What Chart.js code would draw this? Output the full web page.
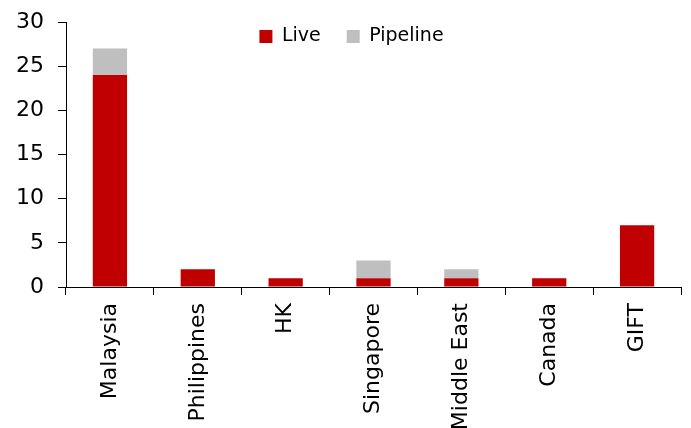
<!DOCTYPE html>
<html>
<head>
<meta charset="utf-8">
<script src="https://cdn.jsdelivr.net/npm/chart.js@4"></script>
<style>
  html, body { margin: 0; padding: 0; background: #fff; }
  #wrap { width: 691px; height: 428px; }
</style>
</head>
<body>
<div id="wrap"><canvas id="bar-chart"></canvas></div>
<script>
var categories = ['Malaysia', 'Philippines', 'HK', 'Singapore', 'Middle East', 'Canada', 'GIFT'];
var liveValues = [24, 2, 1, 1, 1, 1, 7];
var pipelineValues = [3, 0, 0, 2, 1, 0, 0];
var yTicks = [0, 5, 10, 15, 20, 25, 30];

var fontFamily = "'DejaVu Sans', sans-serif";

// legend sits inside the plot area, so it takes no layout space
var legendInside = {
  id: 'legendInside',
  beforeInit: function (chart) {
    var origFit = chart.legend.fit;
    chart.legend.fit = function () {
      origFit.call(this);
      this.height = 0;
    };
  },
  afterLayout: function (chart) {
    // move the box (and its clip area) to where the legend should be drawn
    chart.legend.top = 1;
    chart.legend.bottom = 73;
    chart.legend.height = 72;
    chart.legend.left = 12;
    chart.legend.right = 691;
  }
};

var chart = new Chart(document.getElementById('bar-chart'), {
  type: 'bar',
  data: {
    labels: categories,
    datasets: [
      {
        label: 'Live',
        data: liveValues,
        backgroundColor: '#C00000',
        barPercentage: 0.39,
        categoryPercentage: 1
      },
      {
        label: 'Pipeline',
        data: pipelineValues,
        backgroundColor: '#BFBFBF',
        barPercentage: 0.39,
        categoryPercentage: 1
      }
    ]
  },
  options: {
    responsive: true,
    maintainAspectRatio: false,
    animation: false,
    layout: { padding: { top: 22, right: 10, left: 0, bottom: 0 } },
    plugins: {
      legend: {
        position: 'top',
        align: 'center',
        labels: {
          boxWidth: 13,
          boxHeight: 13,
          padding: 26,
          color: '#000',
          font: { family: fontFamily, size: 19 }
        }
      },
      tooltip: { enabled: false }
    },
    scales: {
      x: {
        stacked: true,
        afterFit: function (axis) { axis.height = 141; },
        grid: {
          offset: true,
          drawOnChartArea: false,
          drawTicks: true,
          tickLength: 8,
          color: '#000'
        },
        border: { color: '#000', width: 1 },
        ticks: {
          maxRotation: 90,
          minRotation: 90,
          padding: 8,
          color: '#000',
          font: { family: fontFamily, size: 22 }
        }
      },
      y: {
        stacked: true,
        min: 0,
        max: 30,
        afterFit: function (axis) {
          axis.width = 66;
          axis.paddingTop = 0;
          axis.paddingBottom = 0;
        },
        afterBuildTicks: function (axis) {
          axis.ticks = yTicks.map(function (v) { return { value: v }; });
        },
        grid: {
          drawOnChartArea: false,
          drawTicks: true,
          tickLength: 8,
          color: '#000'
        },
        border: { color: '#000', width: 1 },
        ticks: {
          color: '#000',
          padding: 14,
          font: { family: fontFamily, size: 22 }
        }
      }
    }
  },
  plugins: [legendInside]
});
</script>
</body>
</html>
